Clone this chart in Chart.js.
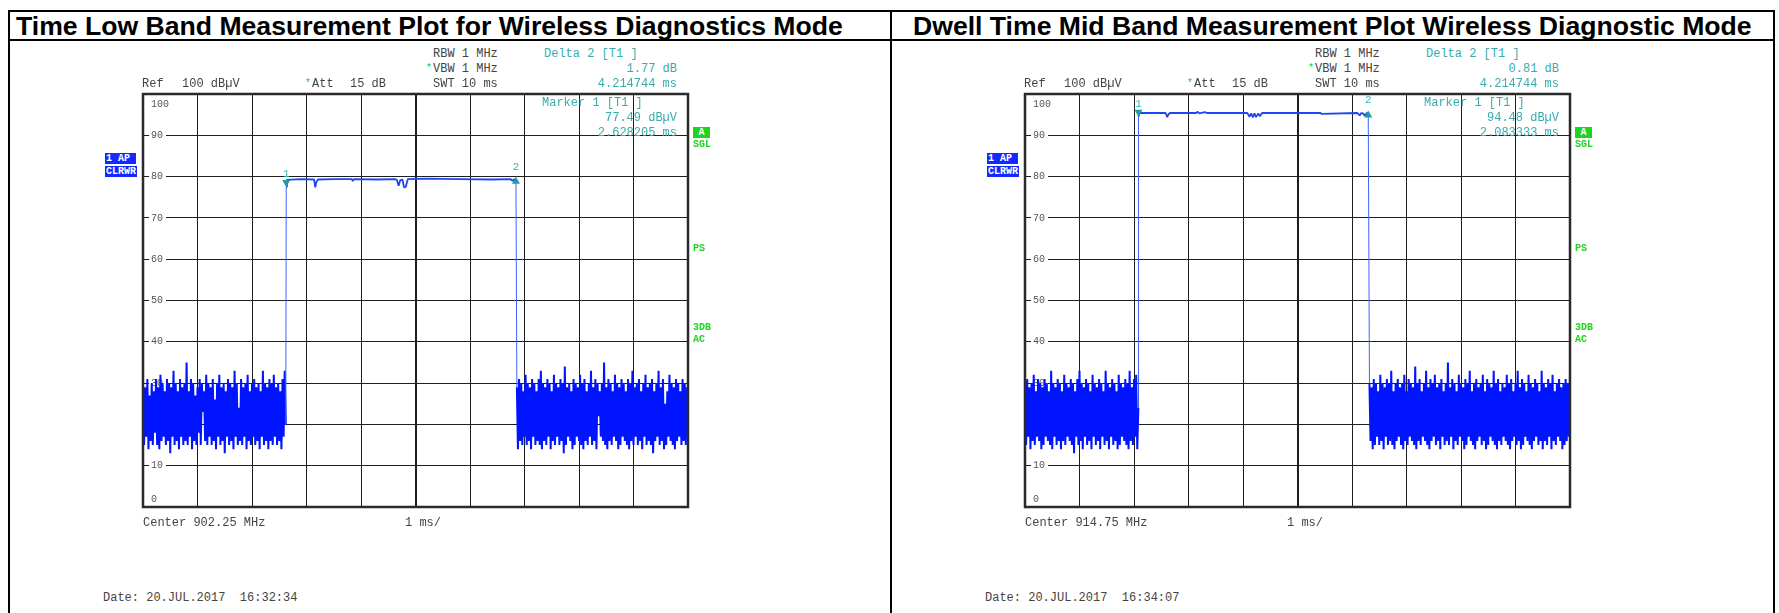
<!DOCTYPE html>
<html><head><meta charset="utf-8">
<script src="https://cdn.jsdelivr.net/npm/chart.js@4.4.0/dist/chart.umd.min.js"></script>
<style>
html,body{margin:0;padding:0;background:#fff;}
body{width:1779px;height:613px;overflow:hidden;position:relative;}
.t{position:absolute;white-space:pre;font:12px/12px "Liberation Mono",monospace;color:#444;}
.teal{color:#3aabab;}
.star{color:#22cc22;font-size:10px;}
.g{position:absolute;white-space:pre;font:bold 10px/10px "Liberation Mono",monospace;color:#1ed41e;}
.box{position:absolute;white-space:pre;font:bold 10px/11px "Liberation Mono",monospace;color:#fff;background:#1428ff;padding:0 1px;}
.gbox{position:absolute;white-space:pre;font:bold 10px/11px "Liberation Mono",monospace;color:#fff;background:#1ed41e;text-align:center;}
.title{position:absolute;font:bold 26.6px/26px "Liberation Sans",Arial,sans-serif;color:#000;white-space:nowrap;}
.ln{position:absolute;background:#000;}
.cc{position:absolute;}
</style></head><body>
<div class="ln" style="left:8px;top:10px;width:1767px;height:2px"></div>
<div class="ln" style="left:8px;top:39px;width:1767px;height:2px"></div>
<div class="ln" style="left:8px;top:10px;width:2px;height:603px"></div>
<div class="ln" style="left:1773px;top:10px;width:2px;height:603px"></div>
<div class="ln" style="left:890px;top:10px;width:2px;height:603px"></div>
<div class="cc" style="left:100px;top:84px;width:600px;height:433px"><canvas id="c0"></canvas></div>
<div class="cc" style="left:982px;top:84px;width:600px;height:433px"><canvas id="c1"></canvas></div>
<script>
// ---------------- data ----------------
const sweepStep = 0.02;            // ms per sweep point (SWT 10 ms / 500 points)
const xMin = 0, xMax = 10, xStep = 1;        // 1 ms/div
const yMin = 0, yMax = 100, yStep = 10;      // dBuV
const yTickLabels = [100, 90, 80, 70, 60, 50, 40, 30, 20, 10, 0];

// Low band trace
const lowNoiseBefore = [
30,15,29,17,31,14,27,16,30,15,28,18,31,15,29,14,32,16,30,17,
28,15,31,16,30,13,29,17,33,15,30,16,28,14,31,17,29,15,30,16,
35,15,28,17,31,14,30,16,27,15,29,18,31,15,30,23,28,16,32,15,
30,17,29,15,31,16,26,14,30,17,32,15,29,16,30,13,28,17,31,15,
30,16,29,14,33,17,30,15,24,16,31,15,29,17,30,14,32,16,28,15,
30,17,31,15,29,16,30,14,28,17,33,15,30,16,29,14,31,16,30,15,
32,17,29,15,30,16,28,14,31,17,33,20];
const lowPlateauT = [2.628,2.64,2.9,3.14,3.16,3.18,3.21,3.5,3.83,3.85,3.87,4.3,4.62,4.66,4.69,4.72,4.76,4.79,4.82,4.86,5.2,5.8,6.4,6.74,6.78,6.81,6.843];
const lowPlateauV = [77.5,79.2,79.4,79.3,77.4,78.6,79.3,79.4,79.4,78.9,79.4,79.3,79.4,79.2,77.8,79.1,79.3,77.4,77.5,79.4,79.5,79.4,79.3,79.4,79.0,79.3,79.26];
const lowNoiseAfterStart = 6.86;
const lowNoiseAfter = [
29,14,31,16,30,15,28,17,32,15,30,16,29,14,31,17,30,15,28,16,
31,15,33,14,30,16,29,15,31,17,30,14,28,16,32,15,30,17,29,15,
31,16,30,13,34,15,29,17,30,16,28,14,31,15,30,17,29,16,32,15,
30,14,31,16,28,15,30,17,33,15,29,16,31,14,30,22,28,17,30,16,
35,15,29,14,31,16,30,15,28,17,32,16,30,14,29,15,31,17,30,16,
28,15,31,14,30,16,33,15,29,17,30,15,31,16,28,14,30,17,32,15,
29,16,30,15,31,13,28,16,30,17,33,15,29,16,31,14,25,15,28,17,
32,16,30,15,29,14,31,16,30,17,28,15,31,16,30,15,29,17];

// Mid band trace
const midNoiseBefore = [
30,15,31,17,29,14,30,16,32,15,28,17,31,16,30,14,29,15,31,17,
30,16,28,15,33,14,30,17,29,15,31,16,30,14,28,16,32,15,30,17,
29,16,31,15,30,13,28,17,31,15,33,16,30,14,29,17,31,15,30,16,
28,14,32,17,30,15,29,16,31,14,30,17,28,15,33,16,30,14,29,17,
31,15,30,16,28,14,32,15,30,17,29,16,31,15,30,14,33,16,29,15,
31,17,32,14,24];
const midPlateauT = [2.083,2.10,2.58,2.61,2.63,2.66,3.14,3.17,3.2,3.3,3.34,4.08,4.12,4.15,4.18,4.21,4.24,4.28,4.31,4.35,5.42,5.44,6.1,6.14,6.17,6.2,6.24,6.27,6.298];
const midPlateauV = [94.5,95.4,95.4,94.4,95.0,95.4,95.4,95.7,95.3,95.6,95.4,95.4,94.5,95.3,94.3,95.3,94.4,95.3,94.6,95.4,95.4,95.2,95.4,94.8,95.4,95.3,94.7,95.4,95.29];
const midNoiseAfterStart = 6.32;
const midNoiseAfter = [
30,16,29,14,31,15,30,17,28,15,32,16,30,14,29,17,31,15,30,16,
33,15,28,14,30,16,31,17,29,15,30,14,32,16,28,15,31,17,30,16,
29,15,34,14,30,16,31,15,28,17,30,16,33,15,29,14,31,16,30,17,
32,15,29,16,30,14,31,17,28,15,30,16,35,15,29,17,31,14,30,16,
28,15,32,17,30,16,29,14,31,15,30,17,33,16,28,15,30,14,31,16,
29,17,30,15,32,16,28,14,31,15,30,17,29,16,33,15,30,14,31,16,
28,15,30,17,29,16,32,15,30,14,31,16,28,17,30,15,33,16,29,14,
31,15,30,17,28,16,32,15,30,14,29,16,31,17,30,15,28,16,33,14,
30,16,29,15,31,17,30,14,32,16,28,15,30,17,31,16,29,14,30,15,
31,16,30,17,32];

// Markers (Marker 1 absolute, Delta 2 relative to marker 1)
const lowMarker1 = {t: 2.628205, v: 77.49}, lowDelta2 = {t: 4.214744, v: 1.77};
const midMarker1 = {t: 2.083333, v: 94.48}, midDelta2 = {t: 4.214744, v: 0.81};

// ---------------- panels ----------------
const panels = [
  {ox: 0, title: 'Time Low Band Measurement Plot for Wireless Diagnostics Mode', titleX: 16,
   before: lowNoiseBefore, platT: lowPlateauT, platV: lowPlateauV, afterStart: lowNoiseAfterStart, after: lowNoiseAfter,
   m1: lowMarker1, d2: lowDelta2, center: 'Center 902.25 MHz', date: 'Date: 20.JUL.2017  16:32:34'},
  {ox: 882, title: 'Dwell Time Mid Band Measurement Plot Wireless Diagnostic Mode', titleX: 913,
   before: midNoiseBefore, platT: midPlateauT, platV: midPlateauV, afterStart: midNoiseAfterStart, after: midNoiseAfter,
   m1: midMarker1, d2: midDelta2, center: 'Center 914.75 MHz', date: 'Date: 20.JUL.2017  16:34:07'}
];

function el(cls, txt, x, y, right, extra) {
  const d = document.createElement('div');
  d.className = cls; d.textContent = txt;
  if (right) d.style.right = (1779 - x) + 'px'; else d.style.left = x + 'px';
  d.style.top = y + 'px';
  if (extra) Object.assign(d.style, extra);
  document.body.appendChild(d);
  return d;
}

function buildTrace(p) {
  const pts = [];
  p.before.forEach((v, i) => pts.push({x: i * sweepStep, y: v}));
  p.platT.forEach((t, i) => pts.push({x: t, y: p.platV[i]}));
  p.after.forEach((v, i) => pts.push({x: p.afterStart + i * sweepStep, y: v}));
  return pts;
}

const framePlugin = {
  id: 'frame',
  beforeDatasetsDraw(chart) {
    const {ctx, chartArea: a, scales: {y}} = chart;
    ctx.save();
    ctx.font = '10px "Liberation Mono", monospace';
    ctx.textBaseline = 'middle';
    yTickLabels.forEach(v => {
      let py = y.getPixelForValue(v);
      const txt = String(v);
      const w = ctx.measureText(txt).width;
      if (v === yMax) py += 10;
      else if (v === yMin) py -= 8;
      else { ctx.fillStyle = '#fff'; ctx.fillRect(a.left + 6, py - 4, w + 5, 8); }
      ctx.fillStyle = '#555';
      ctx.fillText(txt, a.left + 8, py);
    });
    ctx.restore();
  },
  afterDatasetsDraw(chart, args, opts) {
    const {ctx, chartArea: a, scales: {x, y}} = chart;
    const p = opts.panel;
    const ms = [
      {t: p.m1.t, v: p.m1.v, down: true, label: '1'},
      {t: p.m1.t + p.d2.t, v: p.m1.v + p.d2.v, down: false, label: '2'}
    ];
    ctx.save();
    ms.forEach(m => {
      const px = x.getPixelForValue(m.t), py = y.getPixelForValue(m.v);
      ctx.fillStyle = '#1f9c9c';
      ctx.beginPath();
      if (m.down) { ctx.moveTo(px, py); ctx.lineTo(px - 4, py - 7); ctx.lineTo(px + 4, py - 7); }
      else { ctx.moveTo(px, py - 3); ctx.lineTo(px - 4, py + 4); ctx.lineTo(px + 4, py + 4); }
      ctx.closePath(); ctx.fill();
      ctx.fillStyle = '#3ab5b5';
      ctx.font = '11px "Liberation Mono", monospace';
      ctx.textAlign = 'center'; ctx.textBaseline = 'middle';
      ctx.fillText(m.label, px, py - 13);
    });
    ctx.strokeStyle = '#2a2a2a';
    ctx.lineWidth = 2.5;
    ctx.strokeRect(a.left, a.top, a.right - a.left, a.bottom - a.top);
    ctx.restore();
  }
};

panels.forEach((p, idx) => {
  const o = p.ox;
  el('title', p.title, p.titleX, 13);
  el('t', 'RBW 1 MHz', 433 + o, 48);
  el('t teal', 'Delta 2 [T1 ]', 544 + o, 48);
  el('t star', '*', 426 + o, 63);
  el('t', 'VBW 1 MHz', 433 + o, 62.5);
  el('t teal', p.d2.v.toFixed(2) + ' dB', 677 + o, 62.5, true);
  el('t', 'Ref', 142 + o, 77.5);
  el('t', '100 dB\u00b5V', 182 + o, 77.5);
  el('t star', '*', 305 + o, 78);
  el('t', 'Att', 312 + o, 77.5);
  el('t', '15 dB', 350 + o, 77.5);
  el('t', 'SWT 10 ms', 433 + o, 77.5);
  el('t teal', p.d2.t.toFixed(6) + ' ms', 677 + o, 77.5, true);
  el('t teal', 'Marker 1 [T1 ]', 542 + o, 97);
  el('t teal', p.m1.v.toFixed(2) + ' dB\u00b5V', 677 + o, 111.5, true);
  el('t teal', p.m1.t.toFixed(6) + ' ms', 677 + o, 126.5, true);
  el('t', p.center, 143 + o, 517);
  el('t', '1 ms/', 405 + o, 517);
  el('t', p.date, 103 + o, 592);
  el('box', '1 AP', 105 + o, 153, false, {width: '29px'});
  el('box', 'CLRWR', 105 + o, 166, false);
  el('gbox', 'A', 693 + o, 127, false, {width: '17px'});
  el('g', 'SGL', 693 + o, 140);
  el('g', 'PS', 693 + o, 244);
  el('g', '3DB', 693 + o, 323);
  el('g', 'AC', 693 + o, 335);

  new Chart(document.getElementById('c' + idx), {
    type: 'line',
    data: {datasets: [{
      data: buildTrace(p),
      borderColor: '#0014ff',
      borderWidth: 2,
      borderJoinStyle: 'bevel',
      pointRadius: 0,
      tension: 0,
      segment: {
        borderColor: c => {
          const h0 = c.p0.parsed.y > 45, h1 = c.p1.parsed.y > 45;
          if (h0 && h1) return '#1d46f2';
          if (h0 || h1) return '#3d62ff';
          return undefined;
        },
        borderWidth: c => {
          const h0 = c.p0.parsed.y > 45, h1 = c.p1.parsed.y > 45;
          if (h0 && h1) return 1.8;
          if (h0 || h1) return 1;
          return undefined;
        }
      }
    }]},
    options: {
      animation: false,
      responsive: true,
      maintainAspectRatio: false,
      layout: {padding: {left: 43, right: 12, top: 10, bottom: 10}},
      plugins: {legend: {display: false}, tooltip: {enabled: false}, frame: {panel: p}},
      scales: {
        x: {type: 'linear', min: xMin, max: xMax,
            ticks: {display: false, stepSize: xStep},
            grid: {drawTicks: false, color: '#1e1e1e', lineWidth: c => (c.tick && c.tick.value === 5) ? 2 : 1},
            border: {display: false}},
        y: {type: 'linear', min: yMin, max: yMax,
            ticks: {display: false, stepSize: yStep},
            grid: {drawTicks: false, color: '#1e1e1e', lineWidth: 1},
            border: {display: false}}
      }
    },
    plugins: [framePlugin]
  });
});
</script>
</body></html>
